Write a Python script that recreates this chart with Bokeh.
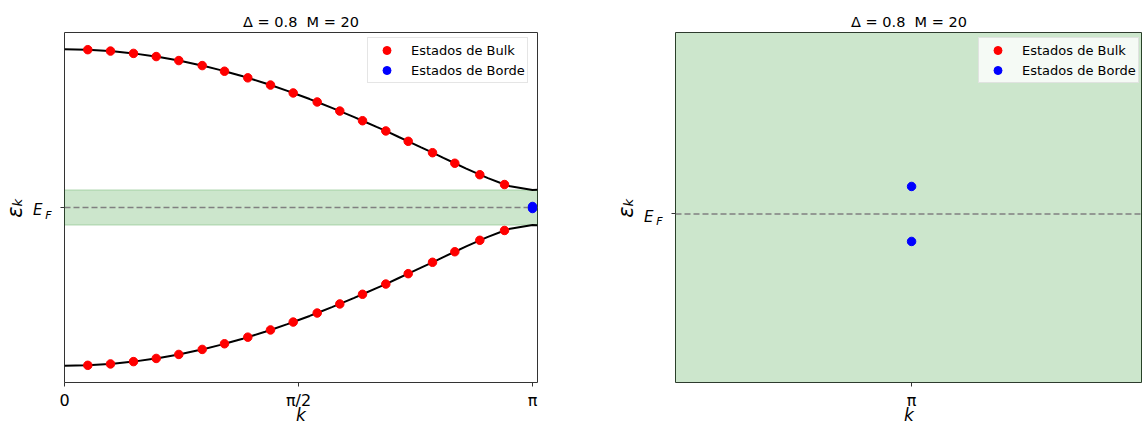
import numpy as np
from bokeh.plotting import figure
from bokeh.layouts import row
from bokeh.models import (Range1d, FixedTicker, Span, BoxAnnotation,
                          LinearAxis, Legend, LegendItem)
from bokeh.embed import file_html
from bokeh.resources import INLINE

# Upper band of the chain spectrum (Delta = 0.8); lower band is its mirror image
CURVE_K = [0.0, 0.1496, 0.2992, 0.4488, 0.5984, 0.7480, 0.8976, 1.0472, 1.1968,
           1.3464, 1.4960, 1.6456, 1.7952, 1.9448, 2.0944, 2.2440, 2.3936,
           2.5432, 2.6928, 2.8424, 2.9920, 3.1416, 3.1750]
CURVE_E = [1.8000, 1.7950, 1.7802, 1.7554, 1.7210, 1.6772, 1.6241, 1.5621,
           1.4915, 1.4128, 1.3265, 1.2331, 1.1331, 1.0274, 0.9165, 0.8015,
           0.6835, 0.5639, 0.4455, 0.3333, 0.2406, 0.2000, 0.2022]

# Bulk eigenstates of the finite chain (M = 20), upper band
BULK_K = [0.1564, 0.3088, 0.4632, 0.6156, 0.7673, 0.9243, 1.0740, 1.2305,
          1.3828, 1.5352, 1.6963, 1.8480, 2.0004, 2.1568, 2.3072, 2.4703,
          2.6200, 2.7878, 2.9536]
BULK_E = [1.7946, 1.7789, 1.7526, 1.7165, 1.6709, 1.6137, 1.5496, 1.4744,
          1.3924, 1.3027, 1.1999, 1.0966, 0.9868, 0.8706, 0.7524, 0.6231,
          0.5031, 0.3730, 0.2612]

# Edge (zero-mode) states
EDGE_K = [3.1416, 3.1416]
EDGE_E = [0.0115, -0.0115]

GAP = 0.2
X_TICKS = [0, 1.5708, 3.1416]
X_TICK_LABELS = ["0", "π/2", "π"]
ZOOM_TICKS = [3.1416]
ZOOM_TICK_LABELS = ["π"]
TITLE = "Δ = 0.8\u00a0\u00a0M = 20"
Y_LABEL = "εₖ"

FONT = "DejaVu Sans"
FRAME = "#333333"


def style_axis(ax, tick_out):
    ax.axis_line_color = None
    ax.major_tick_out = tick_out
    ax.major_tick_in = 0
    ax.minor_tick_out = 0
    ax.minor_tick_in = 0
    ax.major_tick_line_color = FRAME
    ax.major_label_text_font = FONT
    ax.major_label_text_color = "black"


def make_panel(width, x_range, y_range, border_left, border_right,
               ticks, tick_labels, px_per_unit):
    p = figure(width=width, height=433, x_range=x_range, y_range=y_range,
               output_backend="svg", toolbar_location=None, title=TITLE,
               min_border_left=border_left, min_border_right=border_right,
               min_border_top=32, min_border_bottom=51)
    p.background_fill_color = "white"
    p.border_fill_color = "white"
    p.outline_line_color = FRAME
    p.outline_line_width = 1
    p.outline_line_alpha = 1
    p.xgrid.visible = False
    p.ygrid.visible = False

    p.title.text_font = FONT
    p.title.text_font_size = "14.5px"
    p.title.text_font_style = "normal"
    p.title.text_color = "black"
    p.title.align = "center"
    p.title.standoff = 6

    xa = p.xaxis[0]
    style_axis(xa, 4)
    xa.ticker = FixedTicker(ticks=ticks)
    xa.major_label_overrides = dict(zip(ticks, tick_labels))
    xa.major_label_text_font_size = "16px"
    xa.major_label_standoff = 4
    xa.axis_label = "k"
    xa.axis_label_text_font = FONT
    xa.axis_label_text_font_style = "italic"
    xa.axis_label_text_font_size = "17px"
    xa.axis_label_text_color = "black"
    xa.axis_label_standoff = -8

    # Fermi-level tick; its label carries the subscript F one line down
    ya = p.yaxis[0]
    style_axis(ya, 4)
    ya.ticker = FixedTicker(ticks=[0])
    ya.major_label_overrides = {0: " \nF"}
    ya.major_label_text_font_size = "11px"
    ya.major_label_text_font_style = "italic"
    ya.major_label_standoff = 9

    # the E of "E_F" and the energy axis title
    e_pos = -3.0 / px_per_unit
    ax_e = LinearAxis(ticker=FixedTicker(ticks=[e_pos]),
                      major_label_overrides={e_pos: "E"})
    style_axis(ax_e, 0)
    ax_e.major_label_text_font_size = "15px"
    ax_e.major_label_text_font_style = "italic"
    ax_e.major_label_standoff = 0
    ax_e.axis_label = Y_LABEL
    ax_e.axis_label_text_font = FONT
    ax_e.axis_label_text_font_style = "italic"
    ax_e.axis_label_text_font_size = "21px"
    ax_e.axis_label_text_color = "black"
    ax_e.axis_label_standoff = 3
    p.add_layout(ax_e, "left")

    # energy gap and Fermi level
    p.add_layout(BoxAnnotation(bottom=-GAP, top=GAP, fill_color="green",
                               fill_alpha=0.2, line_color="green",
                               line_alpha=0.25, line_width=1, level="underlay"))
    p.add_layout(Span(location=0, dimension="width", line_color="gray",
                      line_width=1.5, line_dash="6 3", level="underlay"))
    return p


def add_states(p, draw_bands):
    if draw_bands:
        pts = sorted(zip(CURVE_K + BULK_K, CURVE_E + BULK_E))
        ks = [k for k, _ in pts]
        es = [e for _, e in pts]
        p.line(ks, es, line_color="black", line_width=2)
        p.line(ks, [-e for e in es], line_color="black", line_width=2)
    r_bulk = p.scatter(BULK_K + BULK_K, BULK_E + [-e for e in BULK_E],
                       size=8.5, fill_color="red", line_color="red")
    r_edge = p.scatter(EDGE_K, EDGE_E, size=8.5, fill_color="blue",
                       line_color="blue")
    legend = Legend(items=[LegendItem(label="Estados de Bulk", renderers=[r_bulk]),
                           LegendItem(label="Estados de Borde", renderers=[r_edge])],
                    location=(303, 299), margin=0, padding=2, spacing=0,
                    glyph_width=33, glyph_height=20, label_height=20,
                    label_standoff=8, label_text_font=FONT,
                    label_text_font_size="13px", label_text_color="black",
                    border_line_color="#cccccc", border_line_width=1,
                    background_fill_color="white", background_fill_alpha=0.8)
    p.add_layout(legend)


# full band structure
left = make_panel(600, Range1d(0, 3.175), Range1d(-1.99, 1.99), 64, 63,
                  X_TICKS, X_TICK_LABELS, 88.0)
add_states(left, True)

# close-up on the edge states at k = pi
right = make_panel(542, Range1d(3.0405, 3.2405), Range1d(-0.0705, 0.0759), 75, 0,
                   ZOOM_TICKS, ZOOM_TICK_LABELS, 2391.0)
add_states(right, False)

layout = row(left, right)
open("out.html", "w").write(file_html(layout, INLINE))
